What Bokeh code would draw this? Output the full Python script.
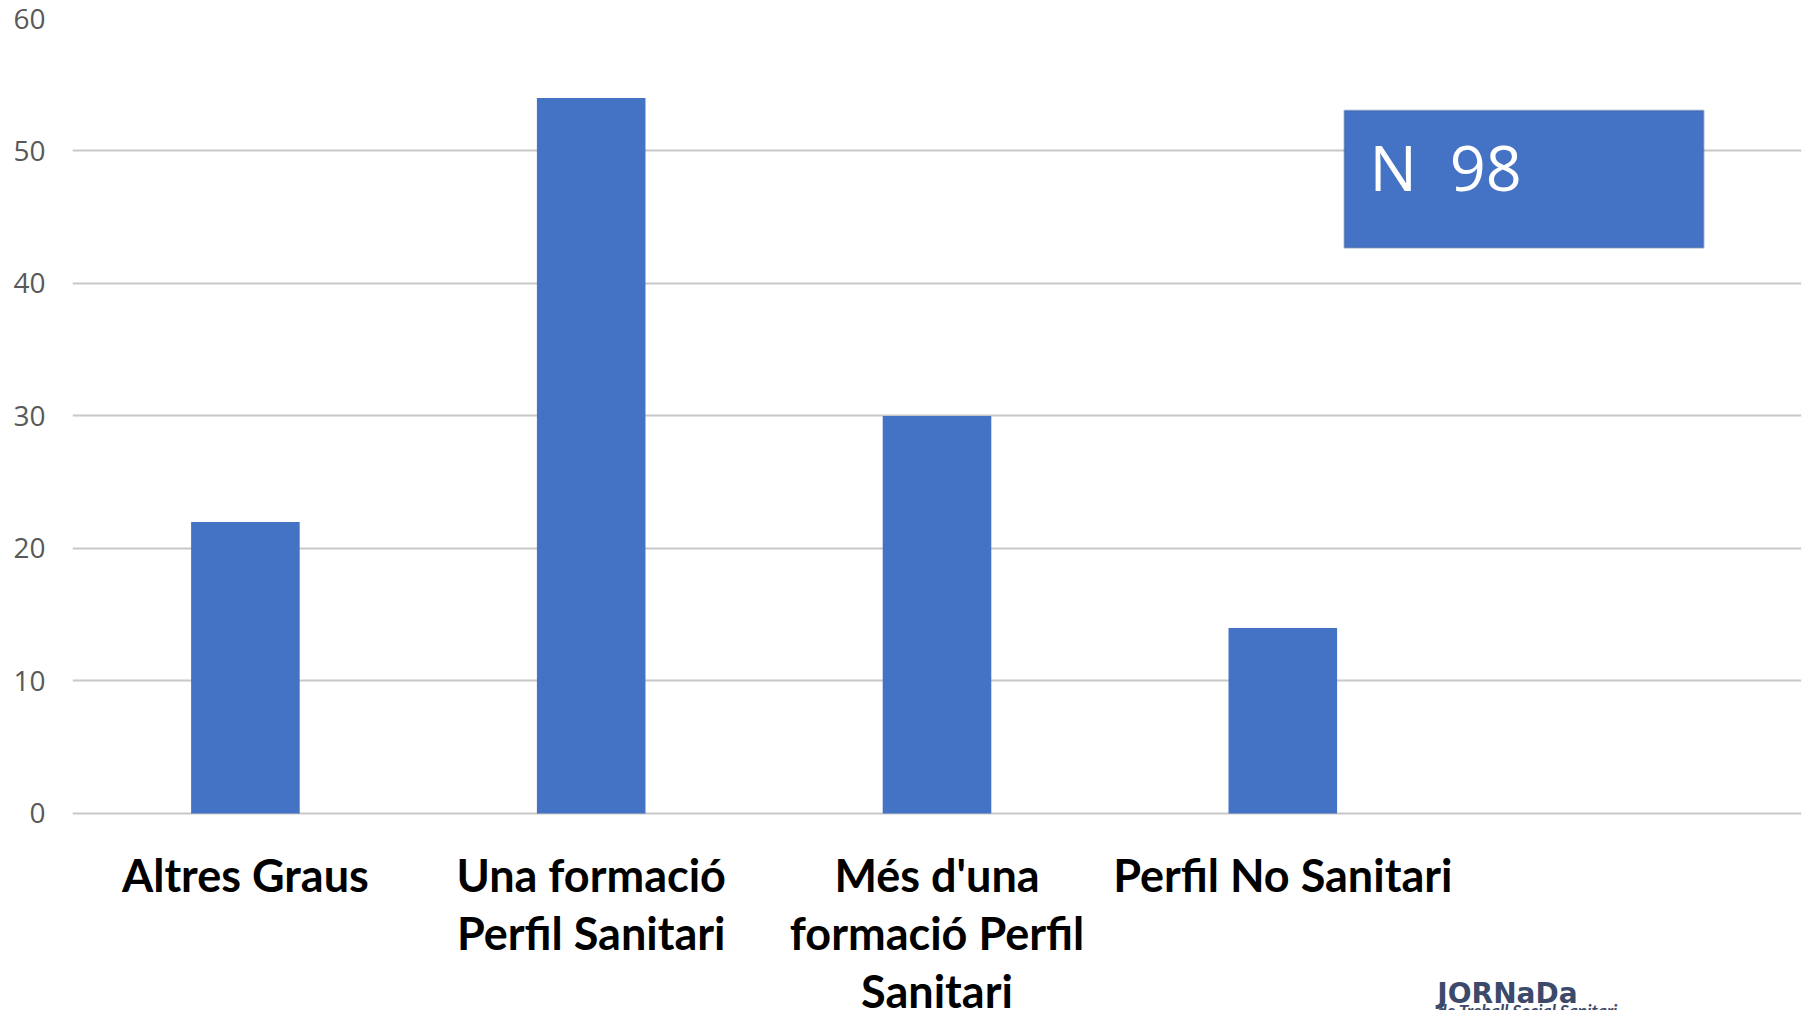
from bokeh.plotting import figure
from bokeh.models import FactorRange, Range1d, BoxAnnotation, Label, FixedTicker
from bokeh.core.properties import value
from bokeh.embed import file_html
from bokeh.resources import INLINE

categories = ["Altres Graus", "Una formació Perfil Sanitari",
              "Més d'una formació Perfil Sanitari", "Perfil No Sanitari", ""]
values = [22, 54, 30, 14]
tick_labels = {
    "Altres Graus": ["Altres Graus"],
    "Una formació Perfil Sanitari": ["Una formació", "Perfil Sanitari"],
    "Més d'una formació Perfil Sanitari": ["Més d'una", "formació Perfil", "Sanitari"],
    "Perfil No Sanitari": ["Perfil No Sanitari"],
}
y_ticks = [0, 10, 20, 30, 40, 50, 60]
n_text = "N\u00a0\u00a098"

Y_BOTTOM = -14.87
p = figure(x_range=FactorRange(factors=categories, range_padding=0),
           y_range=Range1d(Y_BOTTOM, 60),
           width=1810, height=1010, output_backend="svg", toolbar_location=None,
           min_border_left=72, min_border_right=9, min_border_top=18,
           min_border_bottom=0)
p.outline_line_color = None
p.background_fill_color = "white"
p.xaxis.visible = False

p.vbar(x=categories[:4], top=values, width=0.314, color="#4472C4", line_color=None)

p.xgrid.grid_line_color = None
p.ygrid.grid_line_color = "#C8C8C8"
p.ygrid.grid_line_width = 2
p.yaxis.ticker = FixedTicker(ticks=y_ticks)
p.yaxis.axis_line_color = None
p.yaxis.major_tick_line_color = None
p.yaxis.minor_tick_line_color = None
p.yaxis.major_label_standoff = 21
p.yaxis.major_label_text_font = "Open Sans"
p.yaxis.major_label_text_font_size = "28px"
p.yaxis.major_label_text_color = "#595959"

# category labels (multi-line) below the baseline
lx, ly, lt = [], [], []
for cat, lines in tick_labels.items():
    for i, line in enumerate(lines):
        lx.append(cat)
        ly.append(-4.68 - 4.377 * i)
        lt.append(line)
p.text(x=lx, y=ly, text=lt, text_align="center", text_baseline="middle",
       text_font=value("Lato"), text_font_style="bold", text_font_size="45px",
       text_color="black")

box = BoxAnnotation(left=3.678, right=4.717, bottom=42.7, top=53.06,
                    fill_color="#4472C4", fill_alpha=1.0,
                    line_color="#2F528F", line_width=2)
p.add_layout(box)
p.add_layout(Label(x=3.751, y=48.8, text=n_text, text_color="white",
                   text_font="Open Sans", text_font_size="63px",
                   text_baseline="alphabetic"))

p.add_layout(Label(x=3.947, y=-13.58, text="JORNaDa", text_color="#3B4A6B",
                   text_font="DejaVu Sans", text_font_style="bold", text_font_size="28px",
                   text_baseline="alphabetic"))
p.add_layout(Label(x=3.947, y=-14.85, text="de Treball Social Sanitari", text_color="#3B4A6B",
                   text_font="Lato", text_font_style="bold italic", text_font_size="17.5px",
                   text_baseline="alphabetic"))

open("out.html", "w").write(file_html(p, INLINE))
